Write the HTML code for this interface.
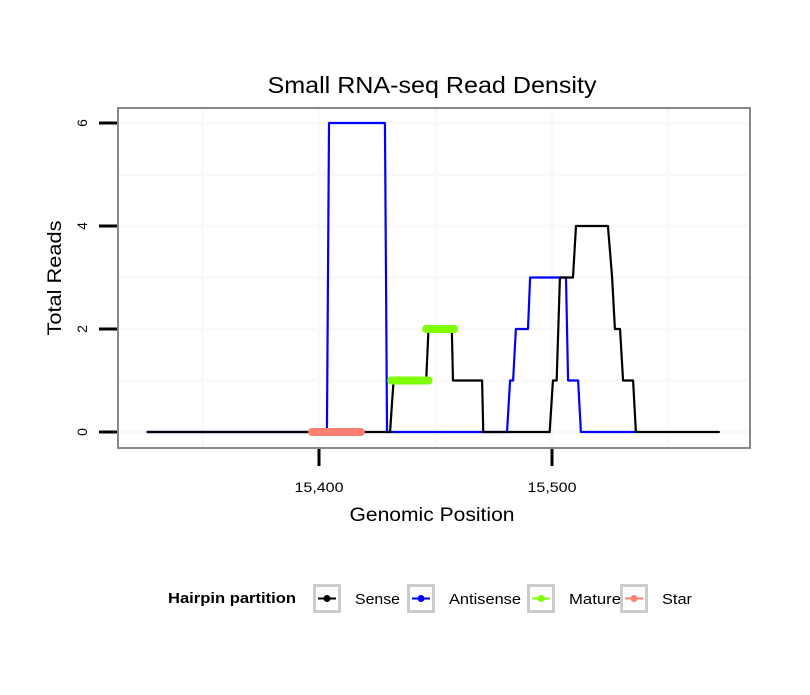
<!DOCTYPE html>
<html><head><meta charset="utf-8"><style>
body{margin:0;background:#fff;}
svg text{font-family:"Liberation Sans",sans-serif;}
</style></head><body>
<svg id="chart" width="810" height="690" xmlns="http://www.w3.org/2000/svg">
<rect width="810" height="690" fill="#fff"/>
<text x="432" y="93" font-size="23" text-anchor="middle" textLength="329" lengthAdjust="spacingAndGlyphs">Small RNA-seq Read Density</text>
<g id="grid"></g>
<g id="series"></g>
<rect x="118" y="108" width="632" height="340" fill="none" stroke="#888" stroke-width="2"/>
<g id="axes"></g>
<text x="432" y="521" font-size="19" text-anchor="middle" textLength="165" lengthAdjust="spacingAndGlyphs">Genomic Position</text>
<text transform="translate(61,278) rotate(-90)" font-size="19" text-anchor="middle" textLength="115" lengthAdjust="spacingAndGlyphs">Total Reads</text>
<g>
<text x="168" y="603" font-size="15" font-weight="bold" textLength="128" lengthAdjust="spacingAndGlyphs">Hairpin partition</text>
<g id="legend"></g>
</g>
</svg>
<script>
const xTicks=[15400,15500];
const xTickLabels=["15,400","15,500"];
const yTicks=[0,2,4,6];
const senseX=[15326,15430.5,15432,15446,15447,15457,15457.5,15470,15470.5,15499,15500.4,15502,15503.4,15509,15510.3,15524,15525.8,15527,15529.2,15530.5,15534.8,15536,15572];
const senseY=[0,0,1,1,2,2,1,1,0,0,1,1,3,3,4,4,3,2,2,1,1,0,0];
const antiX=[15326,15403.4,15404.3,15428.3,15429.2,15480.7,15482,15483.3,15484.5,15489.7,15490.6,15503,15506,15506.9,15511.2,15512.4,15536];
const antiY=[0,0,6,6,0,0,1,1,2,2,3,3,3,1,1,0,0];
const matureX=[[15431,15447],[15446,15458]];
const matureY=[1,2];
const starX=[[15397,15418]];
const starY=[0];
const legendNames=["Sense","Antisense","Mature","Star"];
const legendColors=["#000000","#0000ff","#80ff00","#fa8072"];

const NS="http://www.w3.org/2000/svg";
const X=d=>319+(d-15400)*2.33;
const Y=v=>432-v*51.5;
function mk(tag,attrs,parent){const e=document.createElementNS(NS,tag);for(const k in attrs)e.setAttribute(k,attrs[k]);parent.appendChild(e);return e;}
const grid=document.getElementById('grid'),series=document.getElementById('series'),axes=document.getElementById('axes'),legend=document.getElementById('legend');
for(const d of [15350,15400,15450,15500,15550]){const l=mk('line',{x1:X(d),x2:X(d),y1:109,y2:447,stroke:'#f9f9f9','stroke-width':3},grid);

}
for(let v=0;v<=6;v++){const l=mk('line',{x1:119,x2:749,y1:Y(v),y2:Y(v),stroke:'#f9f9f9','stroke-width':3},grid);

}
function poly(xs,ys,col,name,w){const p=mk('polyline',{points:xs.map((x,i)=>X(x)+','+Y(ys[i])).join(' '),fill:'none',stroke:col,'stroke-width':w,'stroke-linejoin':'round'},series);

}
poly(antiX,antiY,'#0000ff','antisense-line',2.2);
poly(senseX,senseY,'#000000','sense-line',2.2);
matureX.forEach((s,i)=>{const l=mk('line',{x1:X(s[0]),x2:X(s[1]),y1:Y(matureY[i]),y2:Y(matureY[i]),stroke:'#80ff00','stroke-width':8,'stroke-linecap':'round'},series);

});
starX.forEach((s,i)=>{const l=mk('line',{x1:X(s[0]),x2:X(s[1]),y1:Y(starY[i]),y2:Y(starY[i]),stroke:'#fa8072','stroke-width':8,'stroke-linecap':'round'},series);

});
xTicks.forEach((d,i)=>{const t=mk('line',{x1:X(d),x2:X(d),y1:449,y2:466,stroke:'#000','stroke-width':3},axes);


const tx=mk('text',{x:X(d),y:492,'font-size':14,'text-anchor':'middle',textLength:49,lengthAdjust:'spacingAndGlyphs'},axes);tx.textContent=xTickLabels[i];

});
yTicks.forEach(v=>{const t=mk('line',{x1:99,x2:117,y1:Y(v),y2:Y(v),stroke:'#000','stroke-width':3},axes);


const tx=mk('text',{transform:`translate(87,${Y(v)}) rotate(-90)`,'font-size':14,'text-anchor':'middle'},axes);tx.textContent=v;

});
const lx=[313,407,527,620];
const lw=[45,72,52,30];
legendNames.forEach((n,i)=>{const g=mk('g',{},legend);


mk('rect',{x:lx[i]+1.5,y:585.5,width:25,height:26,fill:'#fff',stroke:'#ccc','stroke-width':3},g);
mk('line',{x1:lx[i]+5,x2:lx[i]+23,y1:598.5,y2:598.5,stroke:legendColors[i],'stroke-width':2},g);
mk('circle',{cx:lx[i]+14,cy:598.5,r:3.5,fill:legendColors[i]},g);
const t=mk('text',{x:lx[i]+42,y:604,'font-size':15,textLength:lw[i],lengthAdjust:'spacingAndGlyphs'},g);t.textContent=n;});
</script>
</body></html>
